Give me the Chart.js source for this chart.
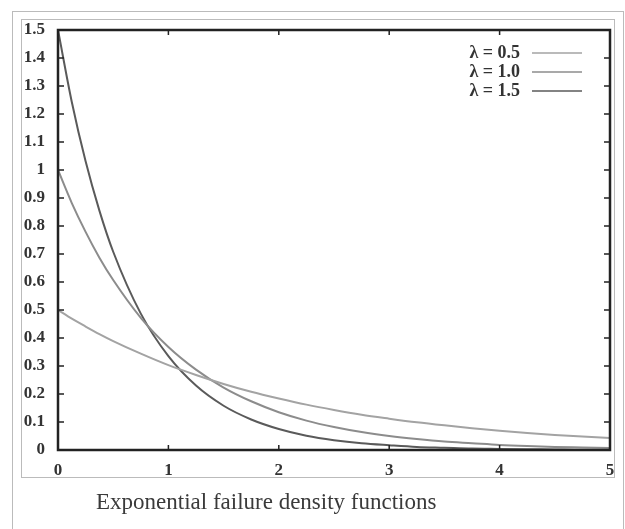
<!DOCTYPE html>
<html>
<head>
<meta charset="utf-8">
<script src="https://cdn.jsdelivr.net/npm/chart.js@4/dist/chart.umd.min.js"></script>
<style>
  html, body { margin:0; padding:0; background:#fff; }
  body { width:625px; height:529px; position:relative; overflow:hidden; }
  #outer { position:absolute; left:12px; top:11px; width:612px; height:530px; border:1px solid #bbb; border-bottom:none; box-sizing:border-box; }
  #inner { position:absolute; left:21px; top:19px; width:594px; height:459px; border:1px solid #bbb; box-sizing:border-box; }
  #chart { position:absolute; left:0; top:0; }
  #caption { position:absolute; left:96px; top:489px; font-family:"Liberation Serif", serif; font-size:23px; color:#3a3a3a; white-space:nowrap; }
</style>
</head>
<body>
<div id="outer"></div>
<div id="inner"></div>
<canvas id="chart" width="625" height="529"></canvas>
<div id="caption">Exponential failure density functions</div>
<script>
// values
const xValues = [0, 0.125, 0.25, 0.375, 0.5, 0.75, 1, 1.25, 1.5, 1.75, 2, 2.25, 2.5, 2.75, 3, 3.25, 3.5, 3.75, 4, 4.25, 4.5, 4.75, 5];
const lambda05 = [0.50, 0.469, 0.441, 0.414, 0.389, 0.344, 0.303, 0.268, 0.236, 0.208, 0.184, 0.162, 0.143, 0.126, 0.112, 0.099, 0.088, 0.078, 0.069, 0.061, 0.054, 0.048, 0.043];
const lambda10 = [1.00, 0.882, 0.779, 0.687, 0.607, 0.472, 0.368, 0.287, 0.223, 0.174, 0.135, 0.105, 0.082, 0.064, 0.05, 0.039, 0.03, 0.024, 0.018, 0.014, 0.011, 0.009, 0.007];
const lambda15 = [1.50, 1.243, 1.031, 0.855, 0.708, 0.487, 0.335, 0.230, 0.158, 0.109, 0.075, 0.051, 0.035, 0.024, 0.017, 0.011, 0.008, 0.005, 0.004, 0.003, 0.002, 0.001, 0.001];
const seriesLabels = ['λ = 0.5', 'λ = 1.0', 'λ = 1.5'];
const seriesColors = ['#a3a3a3', '#8c8c8c', '#5a5a5a'];
const yTicks = [0, 0.1, 0.2, 0.3, 0.4, 0.5, 0.6, 0.7, 0.8, 0.9, 1, 1.1, 1.2, 1.3, 1.4, 1.5];
const xTicks = [0, 1, 2, 3, 4, 5];

const serif = '"Liberation Serif", "DejaVu Serif", serif';
const ink = '#222';

function toPoints(ys){ return xValues.map((x,i)=>({x:x, y:ys[i]})); }

// frame with inward ticks on all four sides + legend (text then line)
const framePlugin = {
  id:'frame',
  afterDraw(chart){
    const ctx = chart.ctx, a = chart.chartArea;
    const xs = chart.scales.x, ys = chart.scales.y;
    ctx.save();
    ctx.strokeStyle = ink; ctx.lineWidth = 2.5;
    ctx.strokeRect(a.left, a.top, a.right-a.left, a.bottom-a.top);
    ctx.lineWidth = 1.5;
    ctx.beginPath();
    yTicks.forEach(v=>{
      const p = ys.getPixelForValue(v);
      ctx.moveTo(a.left, p); ctx.lineTo(a.left+6, p);
      ctx.moveTo(a.right, p); ctx.lineTo(a.right-6, p);
    });
    xTicks.forEach(v=>{
      const p = xs.getPixelForValue(v);
      ctx.moveTo(p, a.bottom); ctx.lineTo(p, a.bottom-5);
      ctx.moveTo(p, a.top); ctx.lineTo(p, a.top+5);
    });
    ctx.stroke();

    // legend
    ctx.font = 'bold 18px ' + serif;
    ctx.textAlign = 'right'; ctx.textBaseline = 'middle';
    chart.data.datasets.forEach((ds,i)=>{
      const y = 53 + i*19;
      ctx.fillStyle = '#333';
      ctx.fillText(ds.label, 520, y);
      ctx.strokeStyle = ds.borderColor; ctx.lineWidth = 1.6;
      ctx.beginPath(); ctx.moveTo(532, y); ctx.lineTo(582, y); ctx.stroke();
    });
    ctx.restore();
  }
};

new Chart(document.getElementById('chart'), {
  type:'line',
  data:{
    datasets:[lambda05, lambda10, lambda15].map((ys,i)=>({
      label: seriesLabels[i],
      data: toPoints(ys),
      borderColor: seriesColors[i],
      borderWidth: 2,
      pointRadius: 0,
      cubicInterpolationMode: 'monotone',
      fill: false
    }))
  },
  options:{
    responsive:false,
    animation:false,
    layout:{ padding:{ top:30, right:15, left:0, bottom:0 } },
    plugins:{ legend:{display:false}, tooltip:{enabled:false} },
    scales:{
      x:{
        type:'linear', min:0, max:5,
        afterBuildTicks(s){ s.ticks = xTicks.map(v=>({value:v})); },
        afterFit(s){ s.height = 79; },
        grid:{ display:false, drawTicks:false },
        border:{ display:false },
        ticks:{ padding:10, color:'#333', font:{ family:serif, size:17, weight:'bold' } }
      },
      y:{
        type:'linear', min:0, max:1.5,
        afterBuildTicks(s){ s.ticks = yTicks.map(v=>({value:v})); },
        afterFit(s){ s.width = 58; },
        grid:{ display:false, drawTicks:false },
        border:{ display:false },
        ticks:{
          padding:13, color:'#333', font:{ family:serif, size:17, weight:'bold' },
          callback:(v)=>String(Math.round(v*10)/10)
        }
      }
    }
  },
  plugins:[framePlugin]
});
</script>
</body>
</html>
